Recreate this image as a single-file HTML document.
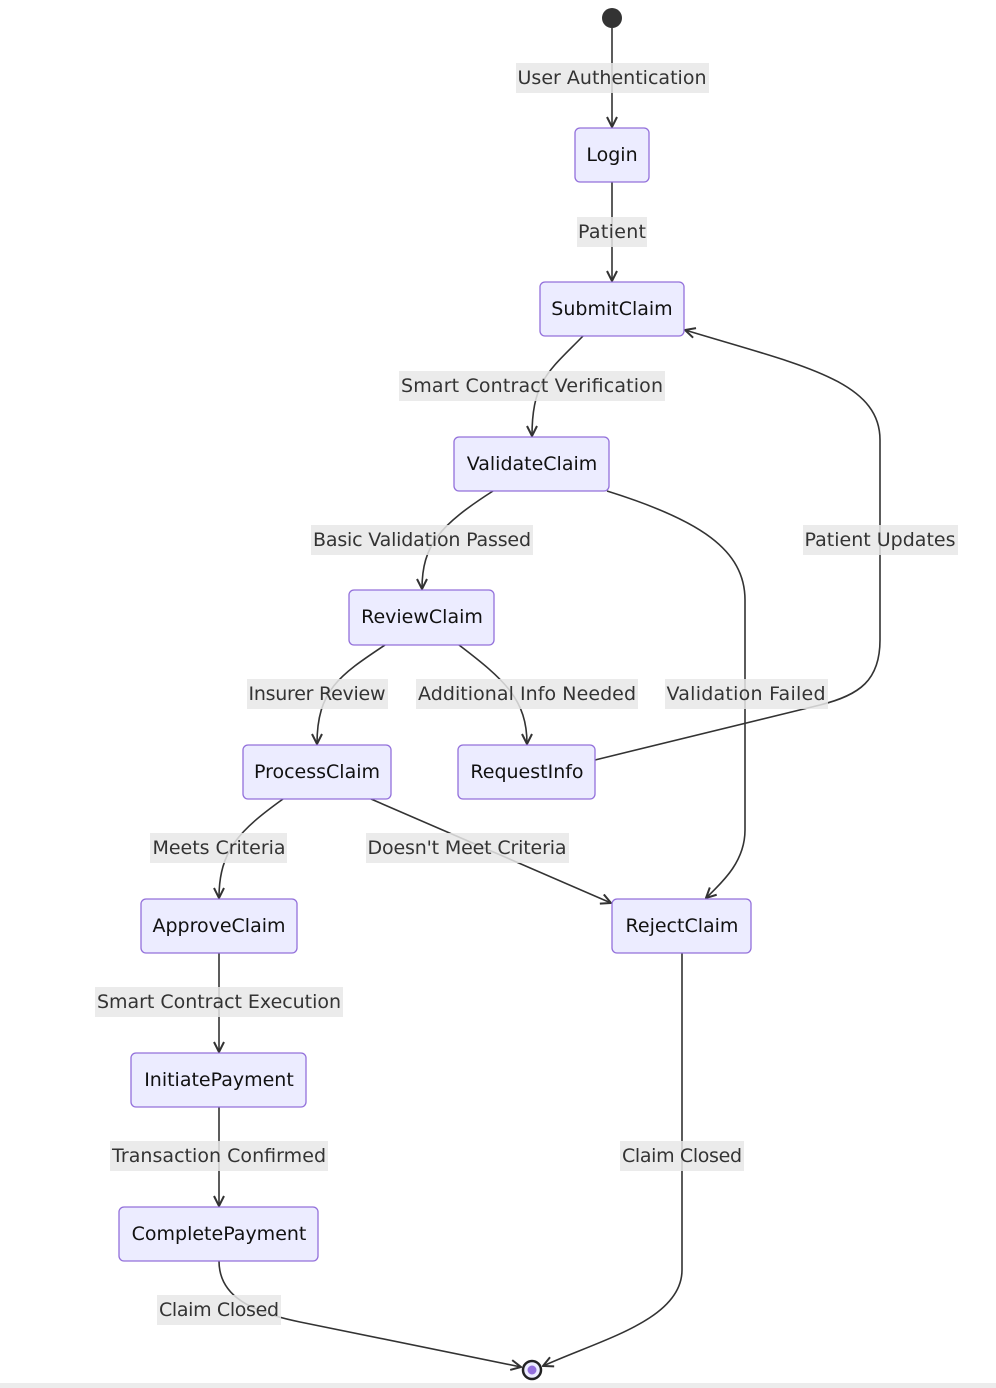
<!DOCTYPE html>
<html><head><meta charset="utf-8"><style>
html,body{margin:0;padding:0;background:#fff;}
svg{display:block;}
.n{fill:#ececff;stroke:#9370db;stroke-width:1.3;}
.nt{font-family:"DejaVu Sans","Liberation Sans",sans-serif;font-size:19px;fill:#111;text-anchor:middle;dominant-baseline:central;}
.e{fill:none;stroke:#333;stroke-width:1.6;}
.lb{fill:#e8e8e8;opacity:0.85;}
.lt{font-family:"DejaVu Sans","Liberation Sans",sans-serif;font-size:19px;fill:#333;text-anchor:middle;dominant-baseline:central;}
</style></head><body>
<svg width="996" height="1388" viewBox="0 0 996 1388" xmlns="http://www.w3.org/2000/svg">
<defs>
<marker id="a" viewBox="0 0 12 12" refX="11" refY="6" markerWidth="12" markerHeight="12" markerUnits="userSpaceOnUse" orient="auto">
<path d="M1,1 L11,6 L1,11" fill="none" stroke="#333" stroke-width="2"/>
</marker>
</defs>
<rect x="0" y="1383" width="996" height="5" fill="#ececec"/>
<!-- edges -->
<path class="e" d="M612,28 L612,127" marker-end="url(#a)"/>
<path class="e" d="M612,182 L612,281" marker-end="url(#a)"/>
<path class="e" d="M583,336 C550,370 532,380 532,436" marker-end="url(#a)"/>
<path class="e" d="M493,491 C440,525 422,545 422,589" marker-end="url(#a)"/>
<path class="e" d="M607,491 C700,520 745,550 745,600 L745,830 C745,860 725,880 706,898" marker-end="url(#a)"/>
<path class="e" d="M385,645 C340,675 317,690 317,744" marker-end="url(#a)"/>
<path class="e" d="M459,645 C505,680 527,700 527,744" marker-end="url(#a)"/>
<path class="e" d="M595,760 L820,705 C860,695 880,680 880,640 L880,440 C880,380 800,365 685,330" marker-end="url(#a)"/>
<path class="e" d="M283,799 C240,830 219,850 219,898" marker-end="url(#a)"/>
<path class="e" d="M371,799 L611,903" marker-end="url(#a)"/>
<path class="e" d="M219,953 L219,1052" marker-end="url(#a)"/>
<path class="e" d="M219,1107 L219,1206" marker-end="url(#a)"/>
<path class="e" d="M219,1261 C219,1290 240,1310 300,1322 L521,1367" marker-end="url(#a)"/>
<path class="e" d="M682,953 L682,1270 C682,1320 600,1340 543,1366" marker-end="url(#a)"/>
<!-- labels -->
<g>
<rect class="lb" x="516" y="63" width="193" height="30"/><text class="lt" x="612" y="78" textLength="189">User Authentication</text>
<rect class="lb" x="577" y="217" width="70" height="30"/><text class="lt" x="612" y="232" textLength="68">Patient</text>
<rect class="lb" x="399" y="371" width="266" height="30"/><text class="lt" x="532" y="386" textLength="262">Smart Contract Verification</text>
<rect class="lb" x="311" y="525" width="222" height="30"/><text class="lt" x="422" y="540" textLength="218">Basic Validation Passed</text>
<rect class="lb" x="803" y="525" width="155" height="30"/><text class="lt" x="880" y="540" textLength="151">Patient Updates</text>
<rect class="lb" x="247" y="679" width="141" height="30"/><text class="lt" x="317" y="694" textLength="137">Insurer Review</text>
<rect class="lb" x="416" y="679" width="222" height="30"/><text class="lt" x="527" y="694" textLength="218">Additional Info Needed</text>
<rect class="lb" x="665" y="679" width="163" height="30"/><text class="lt" x="746" y="694" textLength="159">Validation Failed</text>
<rect class="lb" x="150" y="833" width="137" height="30"/><text class="lt" x="219" y="848" textLength="133">Meets Criteria</text>
<rect class="lb" x="366" y="833" width="203" height="30"/><text class="lt" x="467" y="848" textLength="199">Doesn't Meet Criteria</text>
<rect class="lb" x="95" y="987" width="248" height="30"/><text class="lt" x="219" y="1002" textLength="244">Smart Contract Execution</text>
<rect class="lb" x="110" y="1141" width="218" height="30"/><text class="lt" x="219" y="1156" textLength="214">Transaction Confirmed</text>
<rect class="lb" x="620" y="1141" width="124" height="30"/><text class="lt" x="682" y="1156" textLength="120">Claim Closed</text>
<rect class="lb" x="157" y="1295" width="124" height="30"/><text class="lt" x="219" y="1310" textLength="120">Claim Closed</text>
</g>
<!-- nodes -->
<rect class="n" x="575" y="128" width="74" height="54" rx="5"/><text class="nt" x="612" y="155">Login</text>
<rect class="n" x="540" y="282" width="144" height="54" rx="5"/><text class="nt" x="612" y="309">SubmitClaim</text>
<rect class="n" x="454" y="437" width="155" height="54" rx="5"/><text class="nt" x="532" y="464">ValidateClaim</text>
<rect class="n" x="349" y="590" width="145" height="55" rx="5"/><text class="nt" x="422" y="617">ReviewClaim</text>
<rect class="n" x="243" y="745" width="148" height="54" rx="5"/><text class="nt" x="317" y="772">ProcessClaim</text>
<rect class="n" x="458" y="745" width="137" height="54" rx="5"/><text class="nt" x="527" y="772">RequestInfo</text>
<rect class="n" x="141" y="899" width="156" height="54" rx="5"/><text class="nt" x="219" y="926">ApproveClaim</text>
<rect class="n" x="612" y="899" width="139" height="54" rx="5"/><text class="nt" x="682" y="926">RejectClaim</text>
<rect class="n" x="131" y="1053" width="175" height="54" rx="5"/><text class="nt" x="219" y="1080">InitiatePayment</text>
<rect class="n" x="119" y="1207" width="199" height="54" rx="5"/><text class="nt" x="219" y="1234">CompletePayment</text>
<!-- start/end -->
<circle cx="612" cy="18" r="10" fill="#333"/>
<circle cx="532" cy="1370" r="9" fill="#ececff" stroke="#222" stroke-width="2.5"/>
<circle cx="532" cy="1370" r="4.5" fill="#9370db"/>
</svg>
</body></html>
